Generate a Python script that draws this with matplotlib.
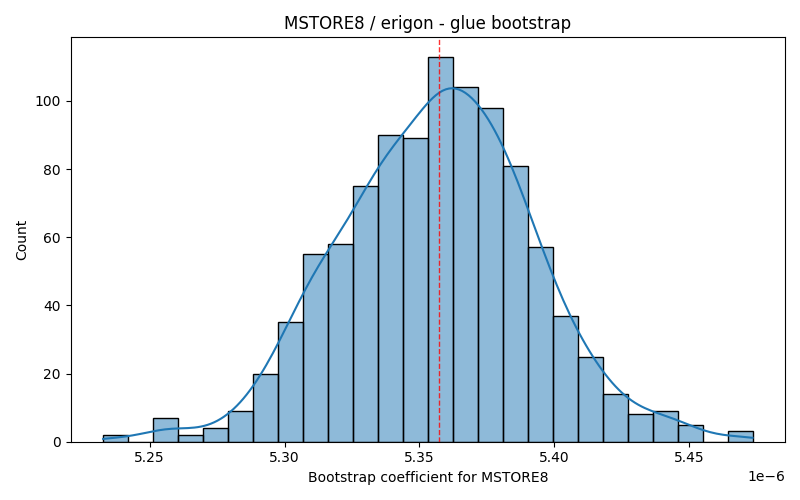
import numpy as np
import pandas as pd
import seaborn as sns
import matplotlib
matplotlib.use('Agg')
import matplotlib.pyplot as plt

# bin counts (26 bins)
counts = [2, 0, 7, 2, 4, 9, 20, 35, 55, 58, 75, 90, 89, 113,
          104, 98, 81, 57, 37, 25, 14, 8, 9, 5, 0, 3]
x_lo = 5.2328e-6
x_hi = 5.4734e-6
mean_coef = 5.3572e-6

edges = np.linspace(x_lo, x_hi, len(counts) + 1)
centers = (edges[:-1] + edges[1:]) / 2
df = pd.DataFrame({'coef': centers, 'n': counts})

# weighted kde uses the effective sample size; rescale to the real n
w = np.array(counts, dtype=float)
n_eff = w.sum() ** 2 / (w ** 2).sum()
bw = (w.sum() / n_eff) ** -0.2

fig, ax = plt.subplots(figsize=(8, 5), dpi=100)
sns.histplot(data=df, x='coef', weights='n', bins=len(counts),
             binrange=(x_lo, x_hi), kde=True,
             kde_kws={'bw_adjust': bw, 'cut': 3, 'clip': (x_lo, x_hi)}, ax=ax)
ax.axvline(mean_coef, color='red', linestyle='--', linewidth=1, alpha=0.8)
ax.set_title('MSTORE8 / erigon - glue bootstrap')
ax.set_xlabel('Bootstrap coefficient for MSTORE8')
ax.set_ylabel('Count')
plt.tight_layout()
plt.savefig('out.png')
